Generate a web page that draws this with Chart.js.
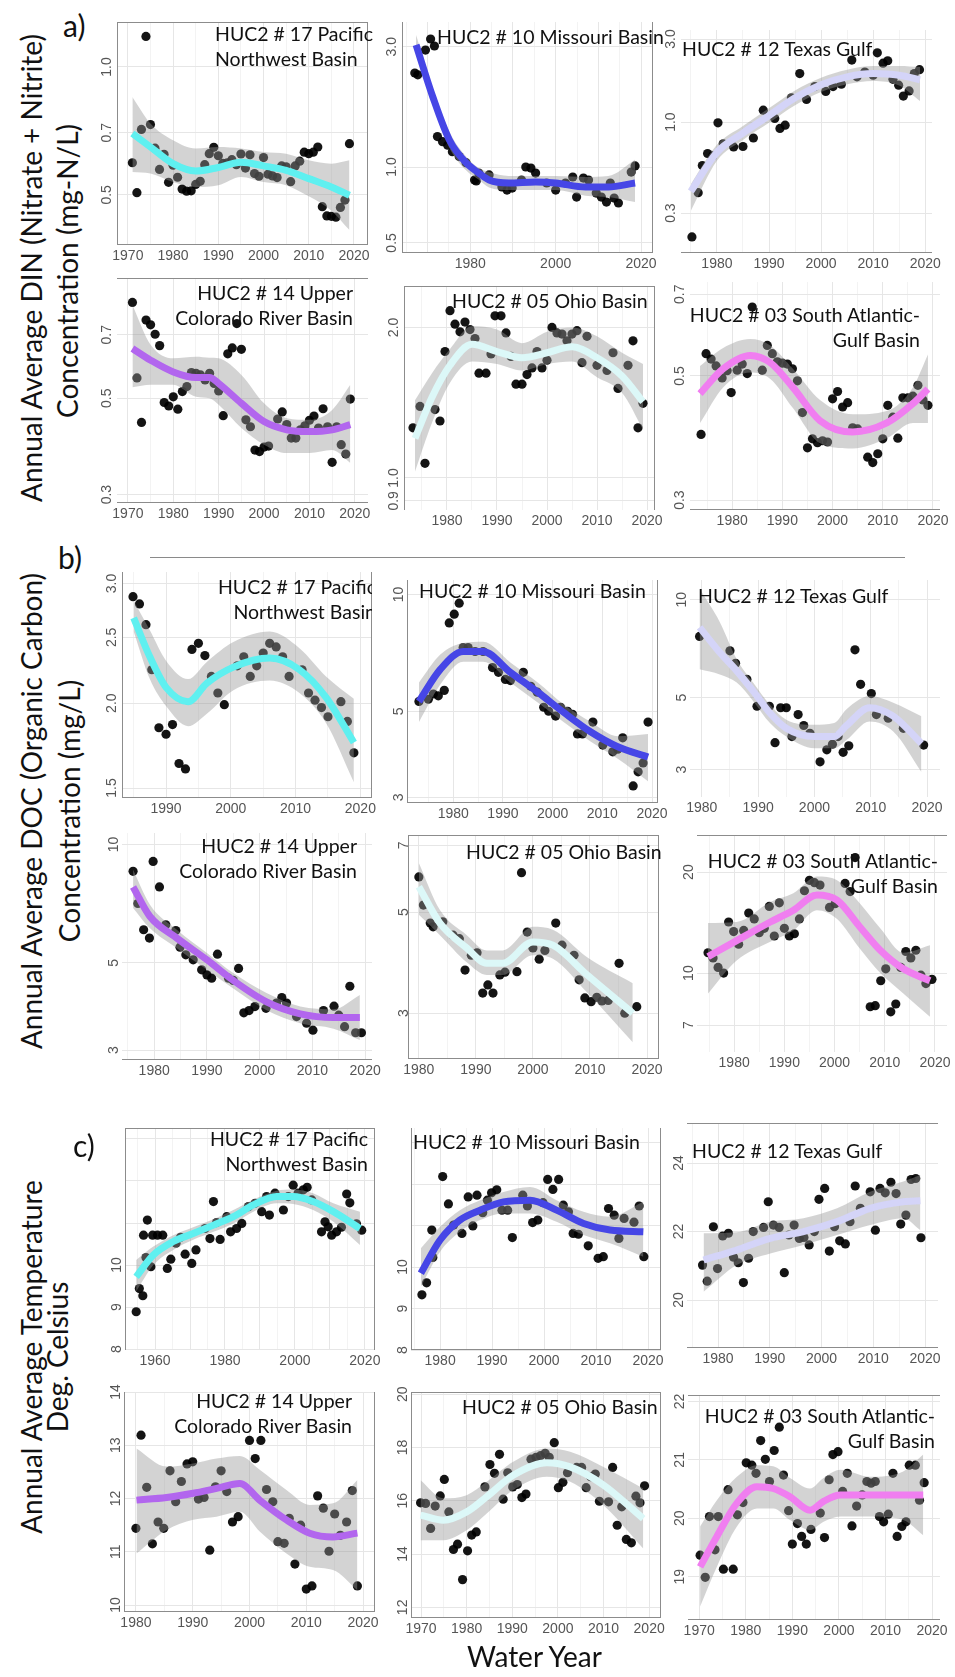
<!DOCTYPE html>
<html>
<head>
<meta charset="utf-8">
<script src="https://cdn.jsdelivr.net/npm/chart.js@4.4.1/dist/chart.umd.min.js"></script>
<style>
html, body { margin: 0; padding: 0; background: #fff; }
#fig { position: relative; width: 955px; height: 1677px; overflow: hidden; font-family: Lato, "Open Sans", sans-serif; color: #111; }
#fig canvas { position: absolute; }
.ttl { position: absolute; font-size: 19.5px; line-height: 25px; white-space: nowrap; }
.clipbox { position: absolute; overflow: hidden; height: 56px; }
.ytl { position: absolute; font-size: 28px; white-space: nowrap; transform: translate(-50%, -50%) rotate(-90deg); }
.lbl { position: absolute; font-size: 30px; line-height: 30px; }
.hr { position: absolute; height: 1px; background: #8a8a8a; }
</style>
</head>
<body>
<div id="fig"></div>
<script>
// ---- a) DIN (mg-N/L) ----
var dinPacPts = [[1971,0.595],[1972,0.506],[1973,0.713],[1974,1.18],[1975,0.732],[1976,0.644],[1977,0.574],[1978,0.623],[1979,0.535],[1980,0.587],[1981,0.55],[1982,0.516],[1983,0.51],[1984,0.511],[1985,0.529],[1986,0.538],[1987,0.589],[1988,0.625],[1989,0.647],[1990,0.618],[1991,0.593],[1992,0.595],[1993,0.605],[1994,0.589],[1995,0.624],[1996,0.578],[1997,0.621],[1998,0.561],[1999,0.553],[2000,0.612],[2001,0.559],[2002,0.554],[2003,0.549],[2004,0.585],[2005,0.582],[2006,0.537],[2007,0.585],[2008,0.60],[2009,0.63],[2010,0.625],[2011,0.63],[2012,0.648],[2013,0.469],[2014,0.446],[2015,0.445],[2016,0.443],[2017,0.467],[2018,0.486],[2019,0.66]];
var dinPacFitYr = [1971,1975,1980,1985,1990,1995,2000,2005,2010,2015,2019];
var dinPacFit = [0.697,0.648,0.592,0.569,0.58,0.597,0.585,0.571,0.546,0.522,0.499];
var dinPacHi = [0.85,0.736,0.672,0.643,0.648,0.643,0.631,0.625,0.603,0.592,0.603];
var dinPacLo = [0.566,0.561,0.536,0.522,0.527,0.551,0.536,0.527,0.496,0.459,0.413];

var dinMisPts = [[1967.0,2.36],[1967.7,2.32],[1969.5,2.91],[1970.7,3.22],[1971.6,3.02],[1972.3,1.32],[1973.5,1.26],[1974.7,1.22],[1975.8,1.15],[1977.4,1.1],[1979.0,1.04],[1981.0,0.888],[1981.4,0.88],[1982.0,0.946],[1984.4,0.93],[1987.4,0.833],[1988.6,0.81],[1989.8,0.825],[1992.0,0.888],[1993.0,1.0],[1994.2,0.99],[1995.3,0.946],[1997.9,0.864],[2000.0,0.81],[2002.3,0.864],[2004.0,0.913],[2004.9,0.76],[2006.5,0.904],[2007.7,0.888],[2009.5,0.788],[2010.7,0.76],[2011.9,0.726],[2012.8,0.864],[2013.7,0.753],[2014.7,0.72],[2017.7,0.955],[2018.6,1.01]];
var dinMisFitYr = [1967.3,1971.2,1975.1,1979,1982,1984.4,1989,1995.3,2000,2007,2012.3,2018.6];
var dinMisFit = [3.05,1.9,1.28,1.04,0.946,0.888,0.864,0.872,0.864,0.833,0.833,0.864];
var dinMisHi = [3.34,2.06,1.38,1.1,0.99,0.955,0.921,0.921,0.921,0.913,0.921,1.07];
var dinMisLo = [2.78,1.76,1.19,0.97,0.89,0.83,0.81,0.81,0.81,0.77,0.76,0.726];

var dinTexPts = [[1975.2,0.219],[1976.4,0.393],[1977.2,0.563],[1978.2,0.66],[1979.2,0.64],[1980.2,0.99],[1981.2,0.75],[1983.2,0.72],[1985,0.724],[1987,0.81],[1988.9,1.17],[1991.1,1.05],[1992.1,0.92],[1993.1,0.96],[1994.3,1.38],[1995.9,1.9],[1997.2,1.35],[1998.8,1.6],[2000.9,1.5],[2002.3,1.6],[2003.9,1.65],[2005.9,2.27],[2006.9,1.82],[2008.4,1.94],[2010,1.86],[2010.8,2.5],[2011.9,2.18],[2012.8,2.25],[2013.8,1.76],[2014.9,1.63],[2015.8,1.41],[2016.9,1.51],[2017.9,1.9],[2018.9,2.0]];
var dinTexFitYr = [1975,1980,1985,1990,1995,2000,2005,2010,2015,2019];
var dinTexFit = [0.40,0.67,0.865,1.09,1.38,1.64,1.82,1.9,1.86,1.75];
var dinTexHi = [0.44,0.74,0.95,1.2,1.52,1.8,2.0,2.1,2.1,2.07];
var dinTexLo = [0.31,0.6,0.79,0.99,1.25,1.49,1.65,1.72,1.62,1.32];

var dinColPts = [[1971,0.831],[1972,0.557],[1973,0.44],[1974,0.757],[1975,0.738],[1976,0.702],[1977,0.661],[1978,0.489],[1979,0.48],[1980,0.504],[1981,0.472],[1982,0.518],[1983,0.532],[1984,0.573],[1985,0.571],[1986,0.566],[1987,0.551],[1988,0.571],[1989,0.541],[1990,0.52],[1991,0.456],[1992,0.633],[1993,0.653],[1994,0.743],[1995,0.648],[1996,0.446],[1997,0.43],[1998,0.38],[1999,0.377],[2000,0.386],[2001,0.388],[2003,0.448],[2004,0.465],[2005,0.435],[2006,0.405],[2007,0.405],[2008,0.423],[2009,0.432],[2010,0.445],[2011,0.455],[2012,0.427],[2013,0.473],[2014,0.43],[2015,0.356],[2016,0.43],[2017,0.391],[2018,0.372],[2019,0.498]];
var dinColFitYr = [1971,1975,1980,1985,1988,1990,1995,2000,2005,2010,2015,2019];
var dinColFit = [0.651,0.612,0.575,0.558,0.558,0.541,0.487,0.442,0.423,0.419,0.423,0.435];
var dinColHi = [0.82,0.664,0.618,0.623,0.62,0.618,0.566,0.487,0.45,0.446,0.47,0.537];
var dinColLo = [0.53,0.537,0.537,0.504,0.50,0.483,0.427,0.391,0.374,0.374,0.38,0.355];

var dinOhiPts = [[1973.2,1.26],[1974.6,1.39],[1975.6,1.07],[1977.6,1.37],[1978.6,1.3],[1979.6,1.79],[1980.6,2.16],[1981.6,2.03],[1982.6,1.96],[1983.6,2.05],[1984.6,1.98],[1985.6,1.9],[1986.4,1.62],[1987.8,1.62],[1988.8,1.77],[1989.6,2.11],[1990.8,2.11],[1991.8,1.95],[1992.8,1.75],[1993.8,1.54],[1995,1.54],[1996,1.61],[1997,1.66],[1998,1.79],[1999,1.66],[2000,1.72],[2001,2.0],[2002,1.95],[2003,1.94],[2004,1.88],[2005,1.94],[2006,1.97],[2007,1.7],[2008,1.92],[2010,1.68],[2012,1.64],[2013.2,1.78],[2014.2,1.51],[2016.2,1.68],[2017.2,1.88],[2018.2,1.26],[2019.2,1.41]];
var dinOhiFitYr = [1973.6,1977,1980.6,1985,1990,1995,2000,2005,2010,2015,2019.2];
var dinOhiFit = [1.2,1.45,1.68,1.85,1.79,1.74,1.78,1.83,1.74,1.6,1.42];
var dinOhiHi = [1.43,1.62,1.81,2.01,1.98,1.86,1.96,2.0,1.92,1.78,1.69];
var dinOhiLo = [1.03,1.29,1.55,1.71,1.69,1.64,1.69,1.71,1.59,1.48,1.25];

var dinSatPts = [[1973.8,0.393],[1974.8,0.548],[1975.8,0.536],[1976.8,0.521],[1978,0.496],[1979,0.511],[1979.8,0.467],[1981,0.512],[1982,0.525],[1983,0.505],[1984,0.664],[1986,0.512],[1987,0.567],[1988,0.548],[1989,0.53],[1990,0.527],[1991,0.525],[1992,0.515],[1993,0.49],[1994,0.43],[1995,0.372],[1996,0.386],[1997,0.38],[1998,0.383],[1999,0.381],[2000,0.455],[2001,0.469],[2002,0.44],[2003,0.448],[2004,0.404],[2005,0.402],[2007,0.358],[2008,0.35],[2009,0.363],[2010,0.386],[2011,0.443],[2012,0.422],[2013,0.387],[2014,0.457],[2015,0.457],[2016,0.46],[2017,0.481],[2018,0.453],[2019,0.443]];
var dinSatFitYr = [1973.6,1978.2,1983.6,1987.6,1992.1,1997.5,2004,2010.8,2016,2019];
var dinSatFit = [0.465,0.515,0.544,0.528,0.477,0.416,0.397,0.412,0.446,0.474];
var dinSatHi = [0.521,0.561,0.582,0.567,0.515,0.453,0.427,0.433,0.477,0.546];
var dinSatLo = [0.412,0.477,0.507,0.494,0.438,0.379,0.371,0.387,0.412,0.412];

// ---- b) DOC (mg/L) ----
var docPacPts = [[1984.9,2.87],[1985.9,2.8],[1986.9,2.61],[1987.8,2.24],[1988.9,1.84],[1990,1.8],[1991,1.86],[1992,1.63],[1993,1.6],[1994,2.4],[1995,2.45],[1996,2.35],[1997,2.19],[1998,2.07],[1999,1.99],[2001,2.27],[2002,2.34],[2003,2.19],[2004,2.27],[2005,2.37],[2006,2.45],[2007,2.42],[2008,2.34],[2009,2.19],[2011,2.24],[2012,2.07],[2013,2.02],[2014,1.97],[2015,1.91],[2017,2.01],[2018,1.88],[2019,1.69]];
var docPacFitYr = [1985,1987.5,1990,1993.4,1996.3,2000.4,2006,2010.6,2014.7,2019];
var docPacFit = [2.67,2.34,2.11,2.01,2.14,2.26,2.33,2.24,2.04,1.75];
var docPacHi = [2.83,2.56,2.31,2.17,2.3,2.46,2.55,2.41,2.19,2.03];
var docPacLo = [2.55,2.17,1.98,1.85,1.93,2.09,2.16,2.07,1.87,1.53];

var docMisPts = [[1973.1,5.3],[1975,5.37],[1976,5.54],[1977,5.48],[1978.2,5.66],[1979.2,8.45],[1980.2,8.9],[1981.2,9.5],[1982,7.3],[1983,7.3],[1984.4,7.13],[1986,7.13],[1987.9,6.48],[1989.1,6.3],[1990.5,6.04],[1991.5,6.0],[1994.1,6.3],[1995.6,5.8],[1996.9,5.6],[1998.2,5.12],[1999.2,5.0],[2000.6,4.86],[2001.6,5.12],[2003,5.0],[2004,4.91],[2005,4.37],[2006,4.37],[2008.1,4.69],[2010.1,4.09],[2012.1,3.93],[2013.1,3.99],[2014.1,4.27],[2016.2,3.21],[2017.2,3.49],[2018.2,3.68],[2019.2,4.69]];
var docMisFitYr = [1973.1,1977.4,1982,1986,1991.5,1997,2002.2,2007.7,2013.1,2019.2];
var docMisFit = [5.3,6.41,7.13,7.13,6.3,5.6,4.97,4.42,4.05,3.81];
var docMisHi = [5.93,7.0,7.5,7.55,6.68,5.93,5.21,4.69,4.31,4.37];
var docMisLo = [4.69,5.86,6.71,6.71,5.93,5.27,4.69,4.17,3.77,3.3];

var docTexPts = [[1979.6,7.71],[1985,6.96],[1986,6.37],[1988,5.69],[1989.8,4.7],[1992,4.7],[1993,3.63],[1994,4.65],[1995,4.65],[1996,3.79],[1997.1,4.43],[1998.1,4.1],[1999.2,3.88],[2001,3.17],[2002.2,3.45],[2003.2,3.59],[2004.2,3.79],[2005.1,3.39],[2006.1,3.55],[2007.2,7.01],[2008.2,5.49],[2010.1,5.14],[2011,4.43],[2013.1,4.32],[2015.8,4.02],[2019.4,3.57]];
var docTexFitYr = [1979.6,1983.2,1986.2,1989.1,1992.1,1995,2000,2003.5,2005.7,2009.8,2014,2019];
var docTexFit = [8.22,6.88,6.04,5.24,4.48,4.02,3.79,3.79,4.1,4.65,4.38,3.61];
var docTexHi = [10.8,8.53,6.56,5.56,4.75,4.27,4.12,4.17,4.6,5.05,4.82,4.38];
var docTexLo = [6.11,5.89,5.56,4.88,4.17,3.79,3.49,3.49,3.7,4.22,3.93,2.95];

var docColPts = [[1976,8.55],[1976.9,7.08],[1978,6.07],[1979.1,5.78],[1979.8,9.06],[1981,7.8],[1982.2,6.25],[1984.1,6.04],[1984.9,5.48],[1986,5.24],[1987.4,5.09],[1989,4.8],[1990,4.66],[1990.9,4.57],[1992,5.26],[1994.1,4.57],[1995,4.51],[1996,4.84],[1997,3.73],[1998,3.78],[1999.1,3.87],[2001.2,3.83],[2003.2,3.95],[2004.2,4.08],[2005.1,3.95],[2007,3.65],[2008.9,3.51],[2010.1,3.37],[2012.1,3.78],[2014.1,3.88],[2015,3.68],[2016.1,3.44],[2017.1,4.36],[2018.2,3.32],[2019.3,3.32]];
var docColFitYr = [1976,1979.2,1984.3,1990,1995,2001.3,2007.7,2014,2019];
var docColFit = [7.8,6.56,5.78,5.09,4.51,3.98,3.71,3.63,3.63];
var docColHi = [8.63,7.03,6.07,5.3,4.71,4.19,3.87,3.81,4.14];
var docColLo = [6.9,6.12,5.45,4.8,4.3,3.79,3.51,3.4,3.18];

var docOhiPts = [[1980,5.97],[1980.8,5.18],[1982,4.73],[1982.5,4.64],[1984.2,4.76],[1986,4.45],[1987.1,4.37],[1988.1,3.73],[1989.2,4.02],[1990.2,4.07],[1991.2,3.32],[1992.1,3.46],[1993,3.32],[1994.2,3.64],[1995.1,3.69],[1997.2,3.7],[1998,6.1],[1999,4.52],[2000,4.17],[2001.1,3.94],[2002.1,4.12],[2004,4.73],[2005.1,4.23],[2007.2,4.02],[2008.1,3.55],[2009.1,3.24],[2010.2,3.18],[2011.2,3.25],[2012.1,3.19],[2013.2,3.2],[2015.1,3.86],[2016.1,3.0],[2018.2,3.1]];
var docOhiFitYr = [1980,1983.7,1988.4,1991.9,1994.7,2000,2003.5,2009.5,2017.5];
var docOhiFit = [5.68,4.73,4.17,3.86,3.86,4.3,4.23,3.64,3.0];
var docOhiHi = [6.41,5.05,4.45,4.12,4.12,4.64,4.57,3.98,3.49];
var docOhiLo = [4.93,4.45,3.88,3.64,3.64,4.02,3.95,3.33,2.59];

var docSatPts = [[1974.8,11.5],[1975.8,11.1],[1976.8,10.4],[1977.9,10.0],[1978.9,14.2],[1979.9,13.3],[1980.9,12.2],[1981.9,13.4],[1982.9,15.1],[1984,14.5],[1985,13.2],[1986,13.6],[1987,15.8],[1988,12.9],[1989,16.2],[1990,13.6],[1991,12.9],[1992,13.1],[1993,14.5],[1994,17.6],[1995,18.9],[1996,18.6],[1997.1,18.3],[1999,15.7],[2000.1,16.1],[2002.1,18.5],[2003.1,17.5],[2004.1,22.1],[2007.1,7.94],[2008.1,8.0],[2009.2,9.49],[2010.2,10.3],[2011.2,7.67],[2012.2,8.09],[2013.2,10.4],[2014.2,11.6],[2015.2,11.1],[2016.2,11.7],[2017.2,9.86],[2018.2,9.31],[2019.4,9.58]];
var docSatFitYr = [1974.8,1980.5,1987.2,1991.8,1996.5,2000.5,2005.1,2009.1,2013.7,2019];
var docSatFit = [11.2,12.5,14.2,15.4,17.1,16.5,13.7,11.7,10.3,9.49];
var docSatHi = [14.1,14.2,16.3,17.3,19.4,18.9,16.1,13.6,11.5,12.1];
var docSatLo = [8.7,10.9,12.4,13.4,15.4,14.5,11.8,10.0,8.7,7.41];

// ---- c) Temperature (deg C) ----
var tmpPacPts = [[1954.6,8.89],[1955.5,9.44],[1956.5,9.27],[1956.7,10.71],[1957.4,10.18],[1957.8,11.07],[1958.8,9.96],[1959.3,10.71],[1960.7,10.71],[1962.2,10.71],[1963.5,9.92],[1964.5,10.14],[1966,10.52],[1967.3,10.66],[1968.6,10.26],[1970.5,10.04],[1971.7,10.36],[1974.3,10.87],[1975.7,10.63],[1976.7,11.51],[1977.6,11.01],[1978.6,10.61],[1980.5,11.15],[1981.6,10.79],[1983.3,10.87],[1984.8,10.99],[1986.7,11.39],[1988.6,11.47],[1990.5,11.27],[1991.9,11.63],[1992.7,11.19],[1994.3,11.71],[1996.7,11.31],[1998.1,11.63],[1999.5,11.9],[2000.9,11.71],[2002.4,11.79],[2003.5,11.85],[2004.8,11.55],[2007.6,10.79],[2008.6,11.03],[2009.5,10.91],[2010.5,10.71],[2011.9,10.79],[2013.3,10.9],[2014.8,11.69],[2015.7,11.48],[2017.6,10.98],[2019.1,10.83]];
var tmpPacFitYr = [1954.6,1959.5,1965.2,1970.9,1976.7,1982.4,1988.1,1994.8,1999.5,2005.2,2011,2018.6];
var tmpPacFit = [9.72,10.24,10.56,10.75,10.95,11.15,11.43,11.63,11.63,11.51,11.27,10.87];
var tmpPacHi = [10.12,10.44,10.71,10.9,11.09,11.31,11.56,11.77,11.8,11.71,11.47,11.27];
var tmpPacLo = [9.37,10.0,10.36,10.6,10.79,10.99,11.27,11.47,11.45,11.31,11.03,10.48];

var tmpMisPts = [[1976.5,9.33],[1977.4,9.62],[1978.4,10.89],[1978.6,10.23],[1980.5,12.18],[1981.6,11.52],[1982.6,11.01],[1984.2,10.81],[1985.4,11.69],[1986.3,10.99],[1987.1,11.73],[1988.2,11.31],[1989.1,11.61],[1989.9,11.79],[1990.9,11.86],[1991.9,11.37],[1993,11.37],[1993.9,10.71],[1995.9,11.73],[1996.8,11.47],[1997.8,11.07],[1998.8,11.13],[1999.8,11.55],[2000.7,12.11],[2001.7,11.87],[2002.8,12.11],[2003.7,11.49],[2004.7,11.33],[2005.6,10.81],[2006.6,10.79],[2008.5,10.51],[2010.4,10.21],[2011.4,10.25],[2012.4,11.41],[2013.5,11.25],[2014.4,10.69],[2015.4,11.17],[2017.3,11.08],[2018.3,11.47],[2019.2,10.25]];
var tmpMisFitYr = [1976.3,1980,1983.8,1987.7,1992.2,1997.3,2002.4,2007.6,2012.7,2019.1];
var tmpMisFit = [9.85,10.65,11.13,11.37,11.57,11.61,11.37,11.05,10.89,10.85];
var tmpMisHi = [10.45,10.97,11.37,11.61,11.81,11.93,11.61,11.33,11.21,11.57];
var tmpMisLo = [9.53,10.37,10.85,11.13,11.29,11.29,11.09,10.77,10.57,10.25];

var tmpTexPts = [[1977,21.02],[1977.9,20.55],[1979.1,22.14],[1979.9,20.92],[1980.9,21.87],[1982,21.95],[1983,21.25],[1983.9,21.09],[1984.9,20.51],[1985.9,21.22],[1986.8,22.0],[1988.8,22.12],[1989.7,22.87],[1990.7,22.19],[1991.8,22.12],[1992.8,20.8],[1993.7,21.9],[1994.7,22.19],[1995.7,21.8],[1996.6,21.83],[1997.6,21.61],[1998.6,22.0],[1999.5,22.94],[2000.6,23.26],[2001.5,21.43],[2002.5,22.14],[2003.5,21.73],[2004.6,21.64],[2005.5,22.29],[2006.5,23.33],[2007.5,22.68],[2009.4,23.16],[2010.4,22.04],[2011.3,23.26],[2012.3,23.13],[2013.4,23.44],[2014.4,23.11],[2015.3,22.22],[2016.3,22.48],[2017.3,23.52],[2018.2,23.55],[2019.2,21.82]];
var tmpTexFitYr = [1977.2,1983.6,1990.1,1996.5,2003,2009.4,2015.8,2019.1];
var tmpTexFit = [21.17,21.46,21.8,22.0,22.29,22.68,22.87,22.9];
var tmpTexHi = [21.95,21.98,22.29,22.39,22.68,23.16,23.46,23.65];
var tmpTexLo = [20.24,21.02,21.36,21.61,21.9,22.19,22.39,22.04];

var tmpColPts = [[1980,11.44],[1980.9,13.19],[1981.9,12.21],[1982.9,11.15],[1983.9,11.56],[1984.9,11.44],[1986,12.52],[1987,11.94],[1988,12.32],[1989,12.65],[1990,12.69],[1991,11.99],[1992,12.02],[1993,11.03],[1994,12.22],[1995,12.52],[1996,12.13],[1997,11.56],[1998,11.66],[2000,13.09],[2001,12.75],[2002,13.09],[2003,12.17],[2004.1,11.94],[2005,11.19],[2006.1,11.16],[2007,11.63],[2008,10.77],[2009,11.5],[2010,10.3],[2011,10.36],[2012,12.05],[2013,11.82],[2014,11.01],[2015,11.71],[2016,11.31],[2017.1,11.56],[2018.1,12.15],[2019,10.36]];
var tmpColFitYr = [1980.1,1985.4,1990.1,1994.2,1998.3,2001.8,2006.5,2010.6,2014.7,2019];
var tmpColFit = [11.97,12.02,12.1,12.19,12.28,11.97,11.6,11.35,11.28,11.35];
var tmpColHi = [12.94,12.6,12.66,12.75,12.8,12.54,12.16,11.88,11.91,12.35];
var tmpColLo = [10.97,11.41,11.6,11.66,11.75,11.38,10.97,10.72,10.66,10.28];

var tmpOhiPts = [[1969.9,15.92],[1971,15.9],[1972.1,14.96],[1973.1,15.8],[1974.2,16.18],[1975.1,16.8],[1976.1,15.58],[1977.1,14.17],[1978,14.37],[1979.1,13.04],[1980.2,14.12],[1981.1,14.71],[1982.1,14.83],[1984,16.52],[1985.1,17.36],[1986.1,17.03],[1987.2,17.74],[1988,16.06],[1989,17.05],[1990.1,16.52],[1991.1,16.61],[1992.1,16.12],[1993,16.25],[1994.1,17.56],[1995.2,17.63],[1996.2,17.69],[1997.2,17.78],[1998.1,17.63],[1999.2,18.18],[2000.1,16.49],[2001.1,16.69],[2002.1,17.05],[2004.1,17.25],[2005.2,17.25],[2006.2,16.49],[2007.2,16.9],[2008.2,17.0],[2009.1,15.98],[2011.1,15.96],[2012,17.25],[2013,15.08],[2014,15.77],[2015,14.55],[2016.1,14.42],[2017.1,16.17],[2018,15.92],[2019,16.56]];
var tmpOhiFitYr = [1969.9,1974.9,1980,1984.4,1990.2,1997.6,2002.7,2010,2018.7];
var tmpOhiFit = [15.46,15.27,15.58,16.15,16.96,17.43,17.27,16.59,15.33];
var tmpOhiHi = [16.77,16.09,16.21,16.71,17.46,17.96,17.84,17.27,16.46];
var tmpOhiLo = [14.52,14.52,14.89,15.52,16.4,16.9,16.71,15.83,14.21];

var tmpSatPts = [[1970.2,19.37],[1971.3,18.99],[1972.2,20.03],[1973.4,19.46],[1974.1,20.03],[1975.2,19.13],[1976.2,20.49],[1977.3,19.13],[1978.2,20.06],[1979.4,20.27],[1980.1,20.95],[1981.3,20.91],[1982.2,20.77],[1983.2,21.33],[1984.2,21.01],[1985.1,20.63],[1986.1,21.16],[1987.2,21.56],[1988.1,20.74],[1989.2,20.13],[1990,19.56],[1991.1,19.91],[1992,19.69],[1993,19.56],[1994,19.81],[1996,20.09],[1996.9,19.67],[1997.9,20.66],[1998.7,21.09],[1999.8,21.14],[2000.8,20.46],[2001.8,20.77],[2002.8,19.87],[2003.8,20.21],[2005,20.4],[2006,20.63],[2006.9,20.6],[2007.8,20.63],[2008.7,20.03],[2009.6,19.94],[2010.6,20.07],[2011.6,20.77],[2012.5,19.69],[2013.5,19.86],[2014.4,19.94],[2015.1,20.91],[2016.4,20.91],[2017.3,20.31],[2018.3,20.61]];
var tmpSatFitYr = [1970.2,1973.8,1978.1,1982.4,1985.9,1989.5,1993.8,1996.7,2000.3,2006.7,2013.8,2018.1];
var tmpSatFit = [19.17,19.69,20.26,20.54,20.51,20.37,20.14,20.29,20.4,20.4,20.4,20.4];
var tmpSatHi = [19.86,20.31,20.71,20.91,20.89,20.69,20.51,20.69,20.83,20.71,20.8,21.09];
var tmpSatLo = [18.49,19.17,19.86,20.17,20.17,19.97,19.8,19.94,20.03,20.03,19.97,19.71];

// y tick labels per panel
var yTkDinA = [0.5, 0.7, 1.0];
var yTkDinMis = [0.5, 1.0, 3.0];
var yTkDinTex = [0.3, 1.0, 3.0];
var yTkDinCol = [0.3, 0.5, 0.7];
var yTkDinOhi = [0.9, 1.0, 2.0];
var yTkDocPac = [1.5, 2.0, 2.5, 3.0];
var yTkDoc3510 = [3, 5, 10];
var yTkDocOhi = [3, 5, 7];
var yTkDocSat = [7, 10, 20];
var yTkTmpPac = [8, 9, 10];
var yTkTmpTex = [20, 22, 24];
var yTkTmpCol = [10, 11, 12, 13, 14];
var yTkTmpOhi = [12, 14, 16, 18, 20];
var yTkTmpSat = [19, 20, 21, 22];

var HUC17 = ['HUC2 # 17 Pacific', 'Northwest Basin'];
var HUC10 = ['HUC2 # 10 Missouri Basin'];
var HUC12 = ['HUC2 # 12 Texas Gulf'];
var HUC14 = ['HUC2 # 14 Upper', 'Colorado River Basin'];
var HUC05 = ['HUC2 # 05 Ohio Basin'];
var HUC03 = ['HUC2 # 03 South Atlantic-', 'Gulf Basin'];

var CYAN = '#5ff0f0', BLUE = '#4646e6', LAV = '#d4d4f8', PURP = '#b266ee', LCYAN = '#dcf8f8', PINK = '#f07ef0';

var panels = [
  {pts: dinPacPts, fx: dinPacFitYr, fit: dinPacFit, hi: dinPacHi, lo: dinPacLo, col: CYAN, box: [117,368,22,245], xr: [1967.6,2023.1], xl: [1970,2020,10], log: true, yr: [0.381,1.276], yt: yTkDinA, dec: 1, sides: 'LTRB', title: HUC17, tp: [215,21,'l']},
  {pts: dinMisPts, fx: dinMisFitYr, fit: dinMisFit, hi: dinMisHi, lo: dinMisLo, col: BLUE, box: [402,653,22,253], xr: [1964,2022.8], xl: [1980,2020,20], log: true, yr: [0.456,3.76], yt: yTkDinMis, dec: 1, sides: 'LRB', title: HUC10, tp: [437,24,'l']},
  {pts: dinTexPts, fx: dinTexFitYr, fit: dinTexFit, hi: dinTexHi, lo: dinTexLo, col: LAV, box: [681,932,30,253], xr: [1973.1,2021.3], xl: [1980,2020,10], log: true, yr: [0.177,3.38], yt: yTkDinTex, dec: 1, sides: 'B', title: HUC12, tp: [682,36,'l']},
  {pts: dinColPts, fx: dinColFitYr, fit: dinColFit, hi: dinColHi, lo: dinColLo, col: PURP, box: [117,368,278,503], xr: [1967.6,2022.9], xl: [1970,2020,10], log: true, yr: [0.287,0.946], yt: yTkDinCol, dec: 1, sides: 'TB', title: HUC14, tp: [353,280,'r']},
  {pts: dinOhiPts, fx: dinOhiFitYr, fit: dinOhiFit, hi: dinOhiHi, lo: dinOhiLo, col: LCYAN, box: [404,655,286,510], xr: [1971.4,2021.6], xl: [1980,2020,10], log: true, yr: [0.863,2.42], yt: yTkDinOhi, dec: 1, sides: 'LTR', title: HUC05, tp: [452,288,'l']},
  {pts: dinSatPts, fx: dinSatFitYr, fit: dinSatFit, hi: dinSatHi, lo: dinSatLo, col: PINK, box: [690,940,282,510], xr: [1971.6,2021.4], xl: [1980,2020,10], log: true, yr: [0.288,0.736], yt: yTkDinCol, dec: 1, sides: 'B', title: HUC03, tp: [920,302,'r']},

  {pts: docPacPts, fx: docPacFitYr, fit: docPacFit, hi: docPacHi, lo: docPacLo, col: CYAN, box: [122,372,572,798], xr: [1983.2,2021.8], xl: [1990,2020,10], log: true, yr: [1.45,3.12], yt: yTkDocPac, dec: 1, sides: 'LRB', title: HUC17, tp: [376,574,'r'], clip: 372},
  {pts: docMisPts, fx: docMisFitYr, fit: docMisFit, hi: docMisHi, lo: docMisLo, col: BLUE, box: [407,658,580,803], xr: [1970.7,2021.2], xl: [1980,2020,10], log: true, yr: [2.92,10.9], yt: yTkDoc3510, dec: 0, sides: 'LRB', title: HUC10, tp: [419,578,'l']},
  {pts: docTexPts, fx: docTexFitYr, fit: docTexFit, hi: docTexHi, lo: docTexLo, col: LAV, box: [690,940,580,797], xr: [1977.9,2022.3], xl: [1980,2020,10], log: true, yr: [2.47,11.5], yt: yTkDoc3510, dec: 0, sides: '', title: HUC12, tp: [698,583,'l']},
  {pts: docColPts, fx: docColFitYr, fit: docColFit, hi: docColHi, lo: docColLo, col: PURP, box: [122,372,833,1060], xr: [1973.9,2021.3], xl: [1980,2020,10], log: true, yr: [2.83,10.7], yt: yTkDoc3510, dec: 0, sides: 'B', title: HUC14, tp: [357,833,'r']},
  {pts: docOhiPts, fx: docOhiFitYr, fit: docOhiFit, hi: docOhiHi, lo: docOhiLo, col: LCYAN, box: [408,659,835,1059], xr: [1978.1,2022.1], xl: [1980,2020,10], log: true, yr: [2.38,7.38], yt: yTkDocOhi, dec: 0, sides: 'LTRB', title: HUC05, tp: [466,839,'l']},
  {pts: docSatPts, fx: docSatFitYr, fit: docSatFit, hi: docSatHi, lo: docSatLo, col: PINK, box: [697,947,835,1052], xr: [1972.6,2022.4], xl: [1980,2020,10], log: true, yr: [5.82,25.8], yt: yTkDocSat, dec: 0, sides: 'T', title: HUC03, tp: [938,848,'r']},

  {pts: tmpPacPts, fx: tmpPacFitYr, fit: tmpPacFit, hi: tmpPacHi, lo: tmpPacLo, col: CYAN, box: [125,375,1128,1350], xr: [1951.4,2022.9], xl: [1960,2020,20], log: false, yr: [7.98,13.26], yt: yTkTmpPac, yg: [11,12,13], dec: 0, sides: 'LTR', title: HUC17, tp: [368,1126,'r']},
  {pts: tmpMisPts, fx: tmpMisFitYr, fit: tmpMisFit, hi: tmpMisHi, lo: tmpMisLo, col: BLUE, box: [411,661,1128,1350], xr: [1974.4,2022.5], xl: [1980,2020,10], log: false, yr: [8.0,13.35], yt: yTkTmpPac, yg: [11,12,13], dec: 0, sides: 'LRB', title: HUC10, tp: [413,1129,'l']},
  {pts: tmpTexPts, fx: tmpTexFitYr, fit: tmpTexFit, hi: tmpTexHi, lo: tmpTexLo, col: LAV, box: [687,938,1123,1348], xr: [1974,2022.5], xl: [1980,2020,10], log: false, yr: [18.6,25.17], yt: yTkTmpTex, dec: 0, sides: 'TB', title: HUC12, tp: [692,1138,'l']},
  {pts: tmpColPts, fx: tmpColFitYr, fit: tmpColFit, hi: tmpColHi, lo: tmpColLo, col: PURP, box: [124,375,1392,1612], xr: [1977.9,2022.1], xl: [1980,2020,10], log: false, yr: [9.87,14], yt: yTkTmpCol, dec: 0, sides: 'LRB', title: HUC14, tp: [352,1388,'r']},
  {pts: tmpOhiPts, fx: tmpOhiFitYr, fit: tmpOhiFit, hi: tmpOhiHi, lo: tmpOhiLo, col: LCYAN, box: [411,661,1392,1618], xr: [1967.8,2022.6], xl: [1970,2020,10], log: false, yr: [11.6,20.08], yt: yTkTmpOhi, dec: 0, sides: 'LTRB', title: HUC05, tp: [462,1394,'l']},
  {pts: tmpSatPts, fx: tmpSatFitYr, fit: tmpSatFit, hi: tmpSatHi, lo: tmpSatLo, col: PINK, box: [688,940,1395,1620], xr: [1967.6,2021.7], xl: [1970,2020,10], log: false, yr: [18.26,22.11], yt: yTkTmpSat, dec: 0, sides: 'TB', title: HUC03, tp: [935,1403,'r']}
];

// draws the thin panel frame lines on the requested sides
var framePlugin = {
  id: 'frame',
  beforeDatasetsDraw: function(chart, args, opts) {
    var a = chart.chartArea, ctx = chart.ctx, s = opts.sides || '';
    ctx.save();
    ctx.strokeStyle = '#8c8c8c';
    ctx.lineWidth = 1;
    ctx.beginPath();
    if (s.indexOf('L') >= 0) { ctx.moveTo(a.left + 0.5, a.top); ctx.lineTo(a.left + 0.5, a.bottom); }
    if (s.indexOf('R') >= 0) { ctx.moveTo(a.right - 0.5, a.top); ctx.lineTo(a.right - 0.5, a.bottom); }
    if (s.indexOf('T') >= 0) { ctx.moveTo(a.left, a.top + 0.5); ctx.lineTo(a.right, a.top + 0.5); }
    if (s.indexOf('B') >= 0) { ctx.moveTo(a.left, a.bottom - 0.5); ctx.lineTo(a.right, a.bottom - 0.5); }
    ctx.stroke();
    ctx.restore();
  }
};
Chart.register(framePlugin);

var PADL = 4, PADR = 24, PADT = 16, PADB = 8, YW = 22, XH = 22;
var fig = document.getElementById('fig');
var tickFont = { family: '"Liberation Sans", Arial, sans-serif', size: 14 };

function xy(xs, ys) {
  var out = [];
  for (var i = 0; i < xs.length; i++) out.push({ x: xs[i], y: ys[i] });
  return out;
}

panels.forEach(function(p) {
  var c = document.createElement('canvas');
  var w = p.box[1] - p.box[0] + PADL + YW + PADR;
  var h = p.box[3] - p.box[2] + PADT + XH + PADB;
  c.width = w; c.height = h;
  c.style.left = (p.box[0] - PADL - YW) + 'px';
  c.style.top = (p.box[2] - PADT) + 'px';
  fig.appendChild(c);

  new Chart(c.getContext('2d'), {
    type: 'line',
    data: {
      datasets: [
        { type: 'scatter', data: p.pts.map(function(q) { return { x: q[0], y: q[1] }; }),
          pointRadius: 4.6, pointBackgroundColor: 'rgba(0,0,0,0.92)', pointBorderWidth: 0, order: 3, clip: false },
        { data: xy(p.fx, p.hi), borderWidth: 0, pointRadius: 0, fill: '+1',
          backgroundColor: 'rgba(150,150,150,0.42)', cubicInterpolationMode: 'monotone', order: 2 },
        { data: xy(p.fx, p.lo), borderWidth: 0, pointRadius: 0, fill: false,
          cubicInterpolationMode: 'monotone', order: 2 },
        { data: xy(p.fx, p.fit), borderColor: p.col, borderWidth: 7, pointRadius: 0, fill: false,
          cubicInterpolationMode: 'monotone', order: 1 }
      ]
    },
    options: {
      responsive: false,
      animation: false,
      devicePixelRatio: 1,
      events: [],
      layout: { padding: { left: PADL, right: PADR, top: PADT, bottom: PADB } },
      plugins: { legend: { display: false }, tooltip: { enabled: false }, frame: { sides: p.sides } },
      scales: {
        x: {
          type: 'linear', min: p.xr[0], max: p.xr[1],
          afterBuildTicks: function(s) {
            var t = [];
            for (var v = Math.ceil(p.xr[0] / 5) * 5; v <= p.xr[1]; v += 5) t.push({ value: v });
            s.ticks = t;
          },
          afterFit: function(s) { s.height = XH; },
          grid: {
            drawTicks: false,
            color: function(ctx) { return ctx.tick && ctx.tick.value % 10 === 0 ? '#e6e6e6' : '#f3f3f3'; }
          },
          border: { display: false },
          ticks: {
            autoSkip: false, maxRotation: 0, minRotation: 0, padding: 3, color: '#555', font: tickFont,
            callback: function(v) {
              return (v >= p.xl[0] && v <= p.xl[1] && (v - p.xl[0]) % p.xl[2] === 0) ? String(v) : '';
            }
          }
        },
        y: {
          type: p.log ? 'logarithmic' : 'linear', min: p.yr[0], max: p.yr[1],
          afterBuildTicks: function(s) {
            s.ticks = p.yt.concat(p.yg || []).map(function(v) { return { value: v }; });
          },
          afterFit: function(s) { s.width = YW; },
          grid: { color: '#e6e6e6', drawTicks: false },
          border: { display: false },
          ticks: {
            autoSkip: false, minRotation: 90, maxRotation: 90, crossAlign: 'center', padding: 0,
            color: '#555', font: tickFont,
            callback: function(v) { return p.yt.indexOf(v) >= 0 ? v.toFixed(p.dec) : ''; }
          }
        }
      }
    }
  });

  // panel title (b1's title is cut by the panel frame, as in the source figure)
  var d = document.createElement('div');
  d.className = 'ttl';
  d.innerHTML = p.title.join('<br>');
  if (p.clip) {
    var box = document.createElement('div');
    box.className = 'clipbox';
    box.style.left = (p.clip - 200) + 'px';
    box.style.width = '200px';
    box.style.top = p.tp[1] + 'px';
    d.style.top = '0px';
    d.style.right = (p.clip - p.tp[0]) + 'px';
    d.style.textAlign = 'right';
    box.appendChild(d);
    fig.appendChild(box);
    return;
  }
  d.style.top = p.tp[1] + 'px';
  if (p.tp[2] === 'r') { d.style.right = (955 - p.tp[0]) + 'px'; d.style.textAlign = 'right'; }
  else { d.style.left = p.tp[0] + 'px'; }
  fig.appendChild(d);
});

// figure-level text
function addText(cls, txt, x, y) {
  var d = document.createElement('div');
  d.className = cls;
  d.textContent = txt;
  d.style.left = x + 'px';
  d.style.top = y + 'px';
  fig.appendChild(d);
}
addText('lbl', 'a)', 63, 10);
addText('lbl', 'b)', 58, 542);
addText('lbl', 'c)', 73, 1130);
addText('ytl', 'Annual Average DIN (Nitrate + Nitrite)', 31, 268);
addText('ytl', 'Concentration (mg-N/L)', 67, 271);
addText('ytl', 'Annual Average DOC (Organic Carbon)', 31, 811);
addText('ytl', 'Concentration (mg/L)', 69, 811);
addText('ytl', 'Annual Average Temperature', 31, 1357);
addText('ytl', 'Deg. Celsius', 57, 1357);
var wy = document.createElement('div');
wy.textContent = 'Water Year';
wy.style.cssText = 'position:absolute;left:467px;top:1641px;font-size:28px;line-height:30px;white-space:nowrap;';
fig.appendChild(wy);
var sep = document.createElement('div');
sep.className = 'hr';
sep.style.cssText += 'left:150px;top:557px;width:755px;';
fig.appendChild(sep);
</script>
</body>
</html>
